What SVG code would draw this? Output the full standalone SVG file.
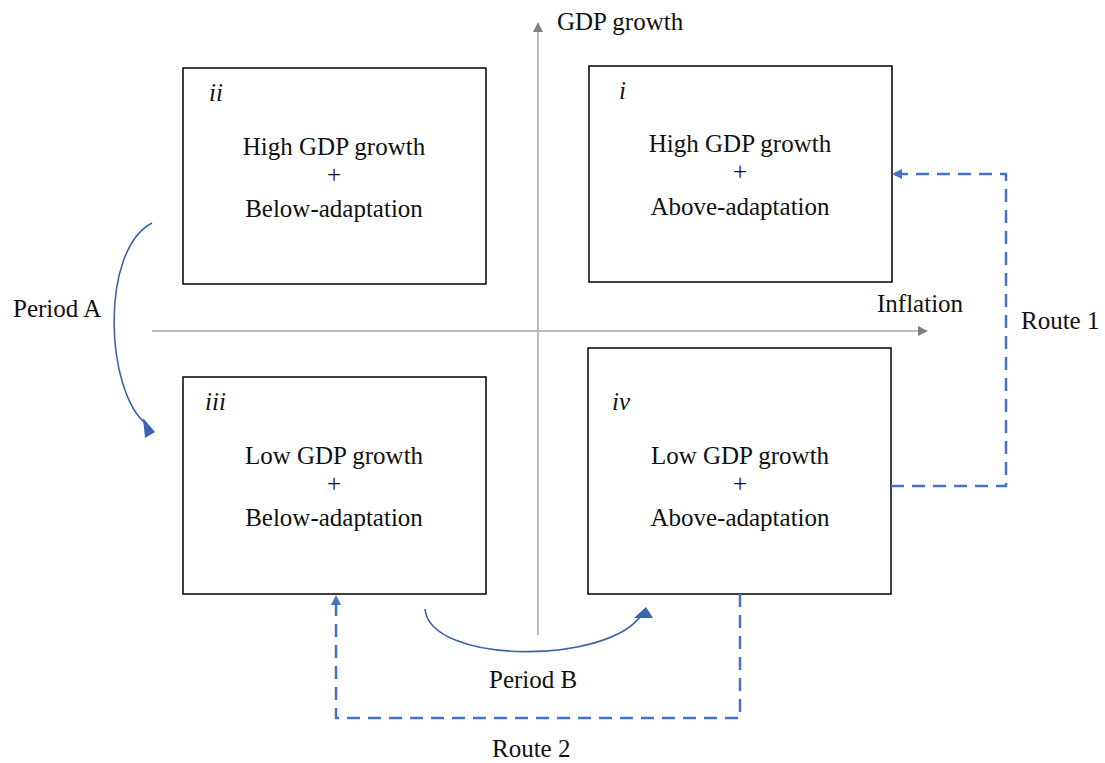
<svg xmlns="http://www.w3.org/2000/svg" width="1105" height="763" viewBox="0 0 1105 763">
<style>
text{font-family:"Liberation Serif","Times New Roman",serif;font-size:25px;fill:#111}
.c{text-anchor:middle}
.it{font-style:italic}
.box{fill:#fff;stroke:#000;stroke-width:1.5}
.axis{stroke:#a6a6a6;stroke-width:1.5;fill:none}
.route{stroke:#4472C4;stroke-width:2.5;fill:none;stroke-dasharray:13 8}
.period{stroke:#3B64AD;stroke-width:1.6;fill:none}
</style>
<defs>
<marker id="ag" markerWidth="10" markerHeight="10" refX="8" refY="5" orient="auto" markerUnits="userSpaceOnUse"><path d="M0,0 L10,5 L0,10 z" fill="#808080"/></marker>
<marker id="ab" markerWidth="10" markerHeight="10" refX="8" refY="5" orient="auto" markerUnits="userSpaceOnUse"><path d="M0,0 L10,5 L0,10 z" fill="#4472C4"/></marker>
</defs>
<g id="axes">
<line class="axis" x1="538" y1="635" x2="538" y2="24" marker-end="url(#ag)"/>
<line class="axis" x1="152" y1="331" x2="926" y2="331" marker-end="url(#ag)"/>
<text x="557" y="30">GDP growth</text>
<text x="877" y="312">Inflation</text>
</g>
<g id="node-ii">
<rect class="box" x="183" y="68" width="303" height="216"/>
<text class="it" x="209" y="101">ii</text>
<text class="c" x="334" y="155">High GDP growth</text>
<text class="c" x="334" y="183">+</text>
<text class="c" x="334" y="217">Below-adaptation</text>
</g>
<g id="node-i">
<rect class="box" x="589" y="66" width="303" height="216"/>
<text class="it" x="619" y="99">i</text>
<text class="c" x="740" y="152">High GDP growth</text>
<text class="c" x="740" y="180">+</text>
<text class="c" x="740" y="215">Above-adaptation</text>
</g>
<g id="node-iii">
<rect class="box" x="183" y="377" width="303" height="217"/>
<text class="it" x="205" y="410">iii</text>
<text class="c" x="334" y="464">Low GDP growth</text>
<text class="c" x="334" y="492">+</text>
<text class="c" x="334" y="526">Below-adaptation</text>
</g>
<g id="node-iv">
<rect class="box" x="588" y="348" width="303" height="246"/>
<text class="it" x="612" y="410">iv</text>
<text class="c" x="740" y="464">Low GDP growth</text>
<text class="c" x="740" y="492">+</text>
<text class="c" x="740" y="526">Above-adaptation</text>
</g>
<g id="connectors">
<path class="route" d="M891,486 H1006 V174 H894" marker-end="url(#ab)"/>
<path class="route" d="M740,594 V718 H336 V597" marker-end="url(#ab)"/>
<path class="period" d="M152,223 C100,250 105,390 146,424"/>
<path d="M143,418 L155,432 L145,438 z" fill="#3B64AD"/>
<path class="period" d="M425,609 C430,665 610,665 642,614"/>
<path d="M634,618 L653,618 L646,607 z" fill="#3B64AD"/>
</g>
<text x="13" y="317">Period A</text>
<text x="1021" y="329">Route 1</text>
<text x="489" y="688">Period B</text>
<text x="492" y="757">Route 2</text>
</svg>
